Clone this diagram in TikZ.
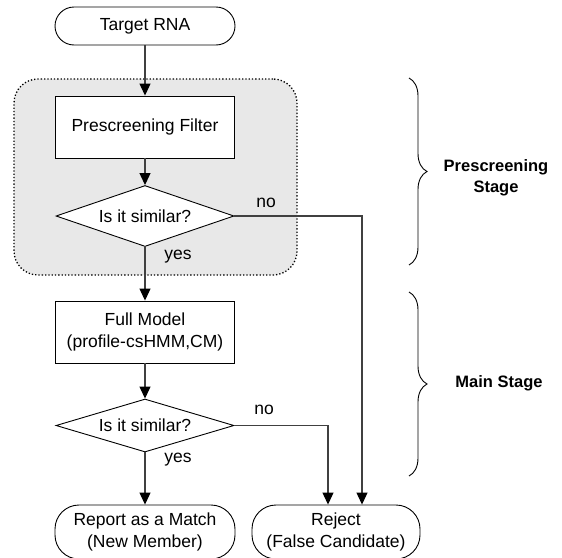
\documentclass[tikz,border=0pt]{standalone}
\usepackage{fontspec}
\setmainfont{Liberation Sans}
\usetikzlibrary{arrows.meta}
\usetikzlibrary{shapes.geometric}
\usetikzlibrary{decorations.pathreplacing}
\usetikzlibrary{calc,positioning}

\begin{document}
\begin{tikzpicture}[x=1pt, y=-1pt, >={Triangle[length=12pt,width=11pt,color=black]},
    font=\fontsize{17.5}{22}\selectfont,
    terminal/.style={draw, line width=0.9pt, rounded corners=19pt, minimum width=180pt, minimum height=38pt, align=center, inner sep=0pt},
    process/.style={draw, line width=0.9pt, fill=white, minimum width=179pt, minimum height=62pt, align=center, inner sep=0pt},
    decision/.style={draw, line width=0.9pt, fill=white, diamond, aspect=2.9, minimum width=178pt, inner sep=0pt},
    stagebox/.style={draw, dotted, line width=1.3pt, fill=black!9, rounded corners=24pt},
    flow/.style={->, line width=1.1pt, draw=black!75},
    stagebrace/.style={decorate, decoration={brace, amplitude=18pt}, line width=0.9pt},
    stagelabel/.style={font=\fontsize{16.5}{21}\selectfont\bfseries, align=center}]

    \useasboundingbox (0,0) rectangle (562,557);

    % prescreening region
    \node[stagebox, minimum width=283pt, minimum height=196pt] (prebox) at (155.5,177) {};

    \node[terminal] (rna) at (145,26) {Target RNA};
    \node[process] (filter) at (145,127) {Prescreening Filter};
    \node[decision, minimum height=61pt] (sim1) at (145,216) {Is it similar?};
    \node[process, minimum height=62pt] (full) at (145,332) {Full Model\\(profile-csHMM,CM)};
    \node[decision, minimum height=53pt] (sim2) at (145,425.5) {Is it similar?};
    \node[terminal, rounded corners=24pt, minimum height=54pt] (match) at (145,532) {Report as a Match\\(New Member)};
    \node[terminal, rounded corners=24pt, minimum width=168pt, minimum height=54pt] (reject) at (336,532) {Reject\\(False Candidate)};

    \node (no1) at (266,203) {no};
    \node (yes1) at (178,257) {yes};
    \node (no2) at (264,410) {no};
    \node (yes2) at (178,460) {yes};

    \draw[flow] (rna) -- (filter);
    \draw[flow] (filter) -- (sim1);
    \draw[flow] (sim1) -- (full);
    \draw[flow] (full) -- (sim2);
    \draw[flow] (sim2) -- (match);
    \draw[flow] (sim1.east) -| ([xshift=26pt]reject.north);
    \draw[flow] (sim2.east) -| ([xshift=-8pt]reject.north);

    % stage braces
    \draw[stagebrace] (409,78) coordinate (pretop) -- (409,265) coordinate (prebot);
    \draw[stagebrace] (409,292) coordinate (maintop) -- (409,476) coordinate (mainbot);
    \node[stagelabel] (prelabel) at (496,178) {Prescreening\\Stage};
    \node[stagelabel] (mainlabel) at (499,383) {Main Stage};

\end{tikzpicture}
\end{document}
